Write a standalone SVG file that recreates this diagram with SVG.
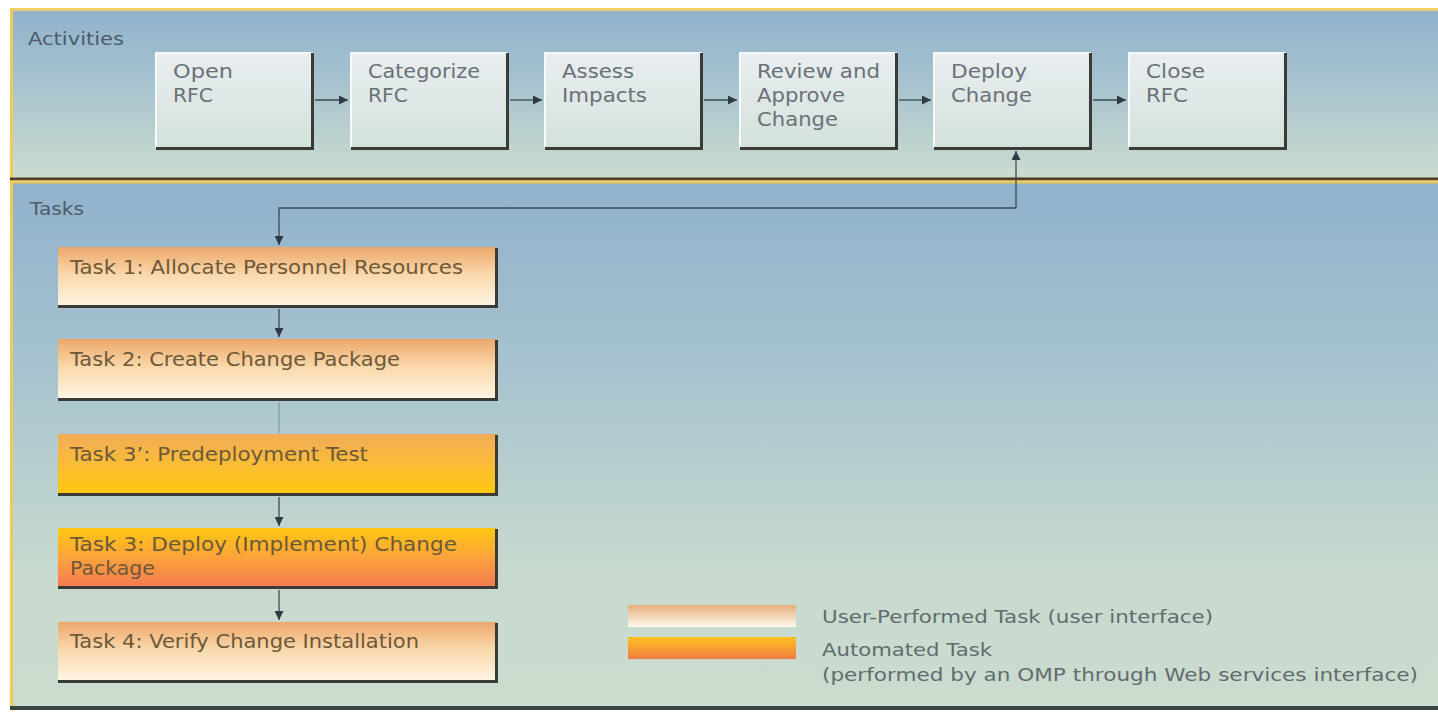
<svg xmlns="http://www.w3.org/2000/svg" width="1438" height="712" viewBox="0 0 1438 712">
<defs>
<linearGradient id="panelA" x1="0" y1="0" x2="0" y2="1">
<stop offset="0" stop-color="#92b3cc"/><stop offset="0.35" stop-color="#a2bfcf"/><stop offset="1" stop-color="#cbdccf"/>
</linearGradient>
<linearGradient id="panelT" x1="0" y1="0" x2="0" y2="1">
<stop offset="0" stop-color="#91b2cc"/><stop offset="0.3" stop-color="#a3c0cf"/><stop offset="0.75" stop-color="#c8dace"/><stop offset="1" stop-color="#cbdccf"/>
</linearGradient>
<linearGradient id="actG" x1="0" y1="0" x2="0" y2="1">
<stop offset="0" stop-color="#e9eef1"/><stop offset="1" stop-color="#d4e1db"/>
</linearGradient>
<linearGradient id="userG" x1="0" y1="0" x2="0" y2="1">
<stop offset="0" stop-color="#eca76a"/><stop offset="0.45" stop-color="#fad8ab"/><stop offset="1" stop-color="#fff6e5"/>
</linearGradient>
<linearGradient id="auto1G" x1="0" y1="0" x2="0" y2="1">
<stop offset="0" stop-color="#f1ab58"/><stop offset="0.5" stop-color="#fbbd36"/><stop offset="1" stop-color="#ffc80c"/>
</linearGradient>
<linearGradient id="auto2G" x1="0" y1="0" x2="0" y2="1">
<stop offset="0" stop-color="#ffc812"/><stop offset="0.5" stop-color="#fca23c"/><stop offset="1" stop-color="#f47a52"/>
</linearGradient>
<linearGradient id="legU" x1="0" y1="0" x2="0" y2="1">
<stop offset="0" stop-color="#e6b07e"/><stop offset="1" stop-color="#fff8ec"/>
</linearGradient>
<linearGradient id="legA" x1="0" y1="0" x2="0" y2="1">
<stop offset="0" stop-color="#ffc21e"/><stop offset="1" stop-color="#f07c44"/>
</linearGradient>
<marker id="ah" viewBox="0 0 10 10" refX="10" refY="5" markerWidth="9" markerHeight="9" markerUnits="userSpaceOnUse" orient="auto">
<path d="M0,0 L10,5 L0,10 Z" fill="#2e3a44"/>
</marker>
</defs>
<style>
text{font-family:"DejaVu Sans","Noto Sans","Liberation Sans",sans-serif;font-size:19px}
.lbl{font-size:18px;fill:#4d5b68}
.act{fill:url(#actG)}
.atxt{fill:#6a7177}
.ttxt{fill:#6e5838}
.legtxt{font-size:18px;fill:#626b6e}
.shadow{fill:none;stroke:#3a3a36;stroke-width:3}
.hl{fill:none;stroke:#f7fafb;stroke-width:2}
.conn{fill:none;stroke:#3e4a54;stroke-width:1.3}
</style>
<rect x="0" y="0" width="1438" height="712" fill="#ffffff"/>
<!-- panels -->
<g id="activities-panel">
<rect x="12" y="11" width="1426" height="167" fill="url(#panelA)"/>
<text class="lbl" x="28" y="45" textLength="96" lengthAdjust="spacingAndGlyphs">Activities</text>
</g>
<g id="tasks-panel">
<rect x="12" y="183" width="1426" height="524" fill="url(#panelT)"/>
<text class="lbl" x="30" y="215" textLength="54" lengthAdjust="spacingAndGlyphs">Tasks</text>
</g>
<g id="frame">
<rect x="10" y="8" width="1428" height="3" fill="#f0cf6a"/>
<rect x="10" y="8" width="3" height="700" fill="#efcb55"/>
<rect x="10" y="177.5" width="1428" height="3" fill="#4f3b1e"/>
<rect x="10" y="180.5" width="1428" height="3" fill="#e8c95a"/>
<rect x="10" y="706" width="1428" height="4" fill="#3c4640"/>
</g>
<!-- activity nodes -->
<g id="open-rfc">
<rect class="act" x="155" y="52" width="158" height="96"/>
<path class="hl" d="M156,148 V53 H313"/>
<path class="shadow" d="M312.5,53 V148.5 H156"/>
<text class="atxt" x="173" y="78" textLength="60" lengthAdjust="spacingAndGlyphs">Open</text><text class="atxt" x="173" y="102" textLength="40" lengthAdjust="spacingAndGlyphs">RFC</text>
</g>
<g id="categorize-rfc">
<rect class="act" x="350" y="52" width="158" height="96"/>
<path class="hl" d="M351,148 V53 H508"/>
<path class="shadow" d="M507.5,53 V148.5 H351"/>
<text class="atxt" x="368" y="78" textLength="112" lengthAdjust="spacingAndGlyphs">Categorize</text><text class="atxt" x="368" y="102" textLength="40" lengthAdjust="spacingAndGlyphs">RFC</text>
</g>
<g id="assess-impacts">
<rect class="act" x="544" y="52" width="158" height="96"/>
<path class="hl" d="M545,148 V53 H702"/>
<path class="shadow" d="M701.5,53 V148.5 H545"/>
<text class="atxt" x="562" y="78" textLength="72" lengthAdjust="spacingAndGlyphs">Assess</text><text class="atxt" x="562" y="102" textLength="85" lengthAdjust="spacingAndGlyphs">Impacts</text>
</g>
<g id="review-approve">
<rect class="act" x="739" y="52" width="158" height="96"/>
<path class="hl" d="M740,148 V53 H897"/>
<path class="shadow" d="M896.5,53 V148.5 H740"/>
<text class="atxt" x="757" y="78" textLength="123" lengthAdjust="spacingAndGlyphs">Review and</text><text class="atxt" x="757" y="102" textLength="88" lengthAdjust="spacingAndGlyphs">Approve</text><text class="atxt" x="757" y="126" textLength="81" lengthAdjust="spacingAndGlyphs">Change</text>
</g>
<g id="deploy-change">
<rect class="act" x="933" y="52" width="158" height="96"/>
<path class="hl" d="M934,148 V53 H1091"/>
<path class="shadow" d="M1090.5,53 V148.5 H934"/>
<text class="atxt" x="951" y="78" textLength="76" lengthAdjust="spacingAndGlyphs">Deploy</text><text class="atxt" x="951" y="102" textLength="81" lengthAdjust="spacingAndGlyphs">Change</text>
</g>
<g id="close-rfc">
<rect class="act" x="1128" y="52" width="158" height="96"/>
<path class="hl" d="M1129,148 V53 H1286"/>
<path class="shadow" d="M1285.5,53 V148.5 H1129"/>
<text class="atxt" x="1146" y="78" textLength="59" lengthAdjust="spacingAndGlyphs">Close</text><text class="atxt" x="1146" y="102" textLength="42" lengthAdjust="spacingAndGlyphs">RFC</text>
</g>
<!-- task nodes -->
<g id="task1">
<rect x="58" y="247" width="439" height="60" fill="url(#userG)"/>
<path class="shadow" d="M496.5,248 V306.5 H58"/>
<text class="ttxt" x="70" y="274" textLength="393" lengthAdjust="spacingAndGlyphs">Task 1: Allocate Personnel Resources</text>
</g>
<g id="task2">
<rect x="58" y="339" width="439" height="61" fill="url(#userG)"/>
<path class="shadow" d="M496.5,340 V399.5 H58"/>
<text class="ttxt" x="70" y="366" textLength="330" lengthAdjust="spacingAndGlyphs">Task 2: Create Change Package</text>
</g>
<g id="task3prime">
<rect x="58" y="434" width="439" height="61" fill="url(#auto1G)"/>
<path class="shadow" d="M496.5,435 V494.5 H58"/>
<text class="ttxt" x="70" y="461" textLength="298" lengthAdjust="spacingAndGlyphs">Task 3’: Predeployment Test</text>
</g>
<g id="task3">
<rect x="58" y="528" width="439" height="60" fill="url(#auto2G)"/>
<path class="shadow" d="M496.5,529 V587.5 H58"/>
<text class="ttxt" x="70" y="551" textLength="387" lengthAdjust="spacingAndGlyphs">Task 3: Deploy (Implement) Change</text><text class="ttxt" x="70" y="575" textLength="85" lengthAdjust="spacingAndGlyphs">Package</text>
</g>
<g id="task4">
<rect x="58" y="622" width="439" height="60" fill="url(#userG)"/>
<path class="shadow" d="M496.5,623 V681.5 H58"/>
<text class="ttxt" x="70" y="648" textLength="349" lengthAdjust="spacingAndGlyphs">Task 4: Verify Change Installation</text>
</g>
<!-- legend -->
<g id="legend">
<rect x="628" y="605" width="168" height="22" fill="url(#legU)"/>
<rect x="628" y="637" width="168" height="22" fill="url(#legA)"/>
<text class="legtxt" x="822" y="623" textLength="391" lengthAdjust="spacingAndGlyphs">User-Performed Task (user interface)</text>
<text class="legtxt" x="822" y="656" textLength="170" lengthAdjust="spacingAndGlyphs">Automated Task</text>
<text class="legtxt" x="822" y="681" textLength="596" lengthAdjust="spacingAndGlyphs">(performed by an OMP through Web services interface)</text>
</g>
<!-- connectors -->
<g id="connectors">
<line class="conn" x1="315" y1="100" x2="348" y2="100" marker-end="url(#ah)"/>
<line class="conn" x1="510" y1="100" x2="542" y2="100" marker-end="url(#ah)"/>
<line class="conn" x1="704" y1="100" x2="737" y2="100" marker-end="url(#ah)"/>
<line class="conn" x1="899" y1="100" x2="931" y2="100" marker-end="url(#ah)"/>
<line class="conn" x1="1093" y1="100" x2="1126" y2="100" marker-end="url(#ah)"/>
<path class="conn" d="M1016,208 V151" marker-end="url(#ah)"/>
<path class="conn" d="M1016,208 H279 V245" marker-end="url(#ah)"/>
<line class="conn" x1="279" y1="309" x2="279" y2="337" marker-end="url(#ah)"/>
<line class="conn" x1="279" y1="402" x2="279" y2="433" style="stroke:#8a9aa6"/>
<line class="conn" x1="279" y1="497" x2="279" y2="526" marker-end="url(#ah)"/>
<line class="conn" x1="279" y1="590" x2="279" y2="620" marker-end="url(#ah)"/>
</g>
</svg>
